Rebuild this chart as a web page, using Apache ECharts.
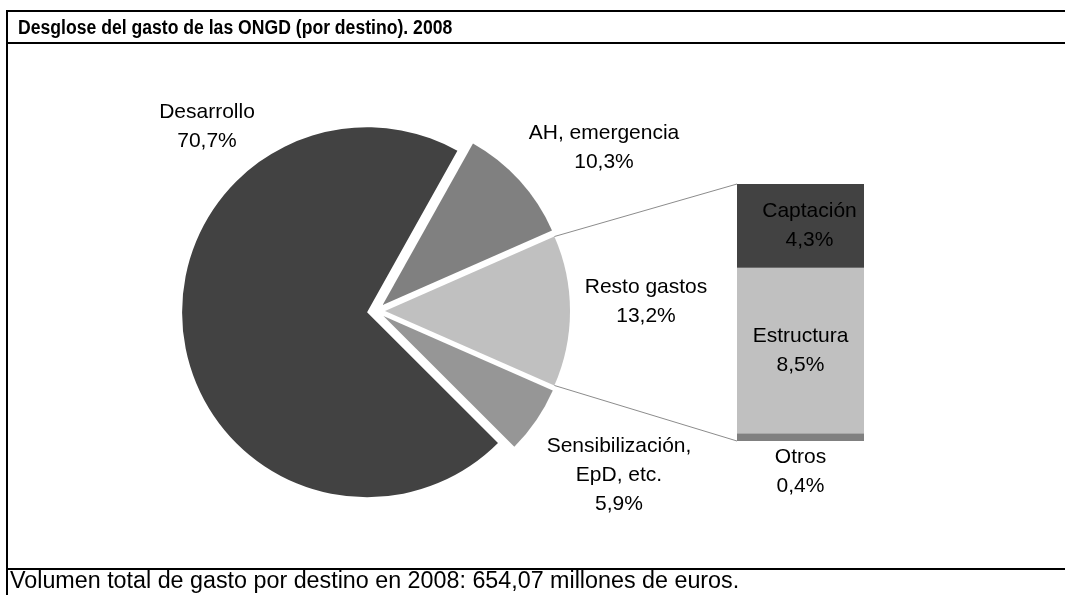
<!DOCTYPE html>
<html>
<head>
<meta charset="utf-8">
<script src="https://cdn.jsdelivr.net/npm/echarts@6/dist/echarts.min.js"></script>
<style>
  html, body { margin: 0; padding: 0; background: #fff; }
  #chart { width: 1065px; height: 595px; }
</style>
</head>
<body>
<div id="chart"></div>
<script>
// pie slices, clockwise from the right-hand "Resto gastos"
var pieNames = ['Resto gastos', 'Sensibilización,\nEpD, etc.', 'Desarrollo', 'AH, emergencia'];
var pieValues = [13.2, 5.9, 70.7, 10.3];
var pieColors = ['#c0c0c0', '#969696', '#424242', '#808080'];

// breakdown of "Resto gastos", bottom to top
var barNames = ['Otros', 'Estructura', 'Captación'];
var barValues = [0.4, 8.5, 4.3];
var barColors = ['#808080', '#c0c0c0', '#424242'];

var titleText = 'Desglose del gasto de las ONGD (por destino). 2008';
var footerText = 'Volumen total de gasto por destino en 2008: 654,07 millones de euros.';

var font = 'Liberation Sans, Arial, sans-serif';
function pct(v) { return v.toFixed(1).replace('.', ',') + '%'; }

// layout
var pieCenter = [376, 311];
var pieRadius = 185;
var explode = 9;
var barGrid = { left: 737, top: 184, width: 127, height: 257 };
var pieLabelPos = [[646, 302], [619, 475], [207, 127], [604, 148]];

var total = pieValues.reduce(function (a, b) { return a + b; }, 0);
var startAngle = pieValues[0] / total * 360 / 2;

// connector lines from the exploded "Resto gastos" slice to the bar
var a = startAngle * Math.PI / 180;
var rx = pieCenter[0] + explode, ry = pieCenter[1];
var topPt = [rx + pieRadius * Math.cos(a), ry - pieRadius * Math.sin(a)];
var botPt = [rx + pieRadius * Math.cos(a), ry + pieRadius * Math.sin(a)];

var frame = [
  { type: 'rect', shape: { x: 6, y: 10, width: 1080, height: 2 }, style: { fill: '#000' }, silent: true },
  { type: 'rect', shape: { x: 6, y: 42, width: 1080, height: 2 }, style: { fill: '#000' }, silent: true },
  { type: 'rect', shape: { x: 6, y: 568, width: 1080, height: 2 }, style: { fill: '#000' }, silent: true },
  { type: 'rect', shape: { x: 6, y: 10, width: 2, height: 600 }, style: { fill: '#000' }, silent: true },
  { type: 'line', shape: { x1: topPt[0], y1: topPt[1], x2: barGrid.left, y2: barGrid.top },
    style: { stroke: '#8c8c8c', lineWidth: 1 }, silent: true },
  { type: 'line', shape: { x1: botPt[0], y1: botPt[1], x2: barGrid.left, y2: barGrid.top + barGrid.height },
    style: { stroke: '#8c8c8c', lineWidth: 1 }, silent: true },
  { type: 'text', x: 18, y: 28, scaleX: 0.88,
    style: { text: titleText, font: 'bold 20px ' + font, fill: '#000',
      align: 'left', verticalAlign: 'middle', textAlign: 'left', textVerticalAlign: 'middle' } },
  { type: 'text', x: 10, y: 582,
    style: { text: footerText, font: '23.3px ' + font, fill: '#000',
      align: 'left', verticalAlign: 'middle', textAlign: 'left', textVerticalAlign: 'middle' } }
];

// pie labels, placed where the reference has them
var pieLabels = pieNames.map(function (n, i) {
  return {
    type: 'text', x: pieLabelPos[i][0], y: pieLabelPos[i][1], silent: true,
    style: { text: n + '\n' + pct(pieValues[i]), font: '21px ' + font, lineHeight: 29, fill: '#000',
      align: 'center', verticalAlign: 'middle', textAlign: 'center', textVerticalAlign: 'middle' }
  };
});

var myChart = echarts.init(document.getElementById('chart'));

var option = {
  backgroundColor: '#fff',
  animation: false,
  grid: barGrid,
  xAxis: { type: 'category', data: [''], show: false },
  yAxis: { type: 'value', min: 0, max: 'dataMax', show: false },
  graphic: frame.concat(pieLabels),
  series: [
    {
      type: 'pie',
      center: pieCenter,
      radius: pieRadius,
      startAngle: startAngle,
      clockwise: true,
      selectedMode: 'multiple',
      selectedOffset: explode,
      select: { itemStyle: { borderWidth: 0 } },
      emphasis: { disabled: true },
      label: { show: false },
      labelLine: { show: false },
      data: pieNames.map(function (n, i) {
        return { name: n, value: pieValues[i], selected: true, itemStyle: { color: pieColors[i] } };
      })
    }
  ].concat(barNames.map(function (n, i) {
    return {
      type: 'bar',
      name: n,
      stack: 'resto',
      barWidth: '100%',
      emphasis: { disabled: true },
      itemStyle: { color: barColors[i] },
      label: {
        show: true,
        position: i === 0 ? 'bottom' : 'inside',
        distance: 2,
        offset: i === 2 ? [9, 0] : [0, 0],
        fontFamily: font,
        fontSize: 21,
        lineHeight: 29,
        color: '#000',
        align: 'center',
        formatter: function (p) { return p.seriesName + '\n' + pct(p.value); }
      },
      data: [barValues[i]]
    };
  }))
};

myChart.setOption(option);
</script>
</body>
</html>
